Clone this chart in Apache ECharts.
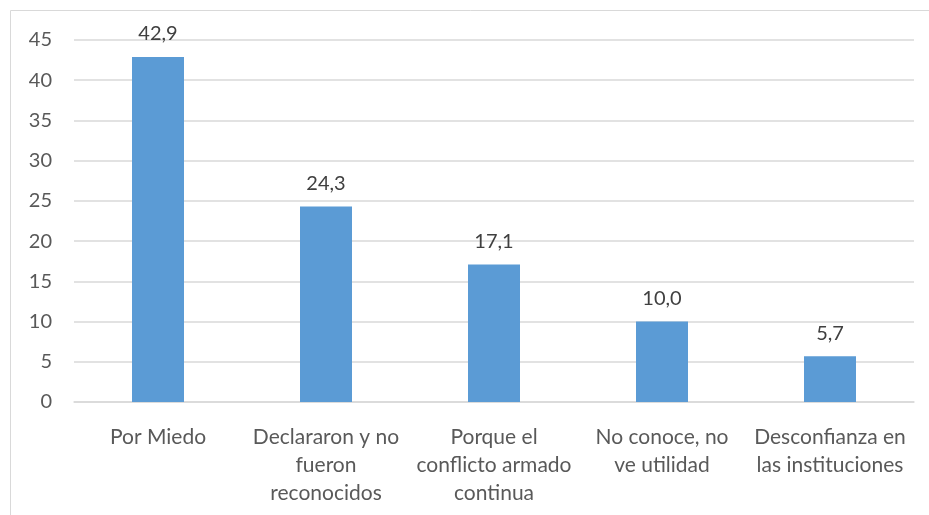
<!DOCTYPE html>
<html lang="es">
<head>
<meta charset="UTF-8">
<title>Motivos</title>
<script src="https://cdn.jsdelivr.net/npm/echarts@6/dist/echarts.min.js"></script>
<style>
  html, body { margin: 0; padding: 0; background: #fff; }
  #chart { width: 929px; height: 515px; }
</style>
</head>
<body>
<div id="chart"></div>
<script>
// datos
const categorias = [
  'Por Miedo',
  'Declararon y no\nfueron\nreconocidos',
  'Porque el\nconflicto armado\ncontinua',
  'No conoce, no\nve utilidad',
  'Desconfianza en\nlas instituciones'
];
const valores = [42.9, 24.3, 17.1, 10.0, 5.7];
const yMin = 0, yMax = 45, yPaso = 5;

const chart = echarts.init(document.getElementById('chart'));
const fuente = 'Lato, "Open Sans", sans-serif';

chart.setOption({
  animation: false,
  graphic: [{
    type: 'rect',
    shape: { x: 10.5, y: 10.5, width: 1000, height: 1000 },
    style: { fill: 'none', stroke: '#d9d9d9', lineWidth: 1 },
    silent: true
  }],
  grid: { left: 74, right: 15, top: 40, bottom: 113 },
  xAxis: {
    type: 'category',
    data: categorias,
    axisLine: { lineStyle: { color: '#d9d9d9', width: 1.5 } },
    axisTick: { show: false },
    axisLabel: {
      color: '#595959', fontFamily: fuente, fontSize: 21,
      lineHeight: 28, margin: 21, interval: 0
    }
  },
  yAxis: {
    type: 'value',
    min: yMin, max: yMax, interval: yPaso,
    axisLine: { show: false },
    axisTick: { show: false },
    splitLine: { lineStyle: { color: '#d9d9d9', width: 1.5 } },
    axisLabel: { color: '#595959', fontFamily: fuente, fontSize: 20, margin: 22 }
  },
  series: [{
    type: 'bar',
    data: valores,
    barWidth: 52,
    itemStyle: { color: '#5b9bd5' },
    label: {
      show: true, position: 'top', distance: 13,
      color: '#404040', fontFamily: fuente, fontSize: 20,
      formatter: p => p.value.toFixed(1).replace('.', ',')
    }
  }]
});
</script>
</body>
</html>
